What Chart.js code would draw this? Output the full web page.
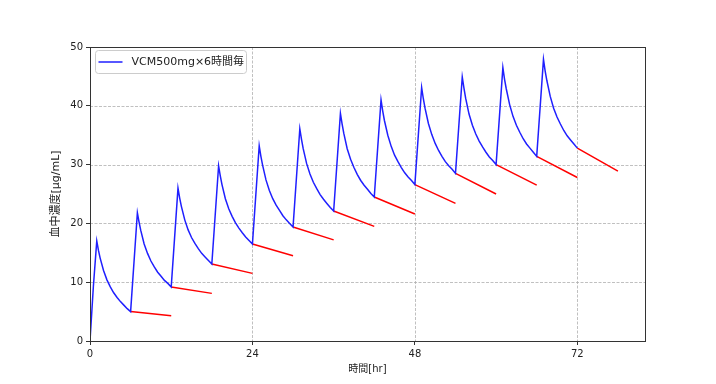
<!DOCTYPE html>
<html>
<head>
<meta charset="utf-8">
<script src="https://cdn.jsdelivr.net/npm/chart.js@4"></script>
<style>
  body { margin: 0; background: #fff; }
  #graphic { display: block; }
</style>
</head>
<body>
<canvas id="graphic" width="716" height="384"></canvas>
<script>
// données (temps en heures, concentration en µg/mL)
const blueTimes = [
  0, 0.5, 1, 1.25, 1.5, 2, 2.5, 3, 3.5, 4, 4.5, 5, 5.5,
  6, 7, 7.25, 7.5, 8, 8.5, 9, 9.5, 10, 10.5, 11, 11.5,
  12, 13, 13.25, 13.5, 14, 14.5, 15, 15.5, 16, 16.5, 17, 17.5,
  18, 19, 19.25, 19.5, 20, 20.5, 21, 21.5, 22, 22.5, 23, 23.5,
  24, 25, 25.25, 25.5, 26, 26.5, 27, 27.5, 28, 28.5, 29, 29.5,
  30, 31, 31.25, 31.5, 32, 32.5, 33, 33.5, 34, 34.5, 35, 35.5,
  36, 37, 37.25, 37.5, 38, 38.5, 39, 39.5, 40, 40.5, 41, 41.5,
  42, 43, 43.25, 43.5, 44, 44.5, 45, 45.5, 46, 46.5, 47, 47.5,
  48, 49, 49.25, 49.5, 50, 50.5, 51, 51.5, 52, 52.5, 53, 53.5,
  54, 55, 55.25, 55.5, 56, 56.5, 57, 57.5, 58, 58.5, 59, 59.5,
  60, 61, 61.25, 61.5, 62, 62.5, 63, 63.5, 64, 64.5, 65, 65.5,
  66, 67, 67.25, 67.5, 68, 68.5, 69, 69.5, 70, 70.5, 71, 71.5,
  72
];
const blueConc = [
  0, 9.3, 17.0, 15.4, 14.1, 12.0, 10.4, 9.2, 8.2, 7.4, 6.7, 6.1, 5.5,
  5.0, 21.8, 20.2, 18.8, 16.5, 14.9, 13.6, 12.6, 11.7, 11.0, 10.3, 9.8,
  9.2, 26.0, 24.3, 22.9, 20.6, 18.9, 17.6, 16.6, 15.7, 14.9, 14.3, 13.7,
  13.1, 29.8, 28.1, 26.6, 24.2, 22.5, 21.2, 20.1, 19.2, 18.4, 17.7, 17.1,
  16.5, 33.2, 31.4, 29.9, 27.4, 25.6, 24.2, 23.1, 22.2, 21.3, 20.6, 20.0,
  19.4, 36.1, 34.3, 32.7, 30.2, 28.4, 27.0, 25.9, 24.9, 24.1, 23.4, 22.7,
  22.1, 38.7, 36.9, 35.3, 32.7, 30.9, 29.5, 28.3, 27.3, 26.5, 25.8, 25.1,
  24.5, 41.0, 39.1, 37.5, 35.0, 33.1, 31.6, 30.5, 29.5, 28.6, 27.9, 27.3,
  26.6, 43.1, 41.2, 39.6, 37.0, 35.1, 33.6, 32.4, 31.4, 30.5, 29.8, 29.2,
  28.5, 44.9, 43.0, 41.3, 38.6, 36.7, 35.2, 34.0, 33.0, 32.1, 31.3, 30.7,
  30.0, 46.5, 44.5, 42.9, 40.2, 38.2, 36.7, 35.5, 34.4, 33.5, 32.8, 32.1,
  31.4, 47.9, 45.9, 44.3, 41.6, 39.6, 38.1, 36.9, 35.8, 34.9, 34.2, 33.5,
  32.8
];

// droites rouges : départ à chaque creux, fin 6 h plus tard
const redStartTimes = [6, 12, 18, 24, 30, 36, 42, 48, 54, 60, 66, 72];
const redStartConc = [5.0, 9.2, 13.1, 16.5, 19.4, 22.1, 24.5, 26.6, 28.5, 30.0, 31.4, 32.8];
const redEndConc = [4.3, 8.1, 11.5, 14.5, 17.2, 19.5, 21.6, 23.4, 25.0, 26.5, 27.8, 28.9];

const xTicks = [0, 24, 48, 72];
const legendLabel = 'VCM500mg×6時間毎';

const FONT = "'DejaVu Sans', 'Noto Sans CJK JP', sans-serif";

const bluePoints = blueTimes.map((t, i) => ({ x: t, y: blueConc[i] }));
const redPoints = [];
redStartTimes.forEach((t, i) => {
  redPoints.push({ x: t, y: redStartConc[i] });
  redPoints.push({ x: t + 6, y: redEndConc[i] });
  redPoints.push({ x: t + 6, y: null });
});

// grille en pointillés (sous les courbes)
const gridPlugin = {
  id: 'dashGrid',
  beforeDatasetsDraw(chart) {
    const { ctx, chartArea: a, scales } = chart;
    ctx.save();
    ctx.strokeStyle = '#b0b0b0';
    ctx.lineWidth = 0.8;
    ctx.setLineDash([3, 1.5]);
    scales.x.ticks.forEach(t => {
      const px = Math.round(scales.x.getPixelForValue(t.value)) + 0.5;
      ctx.beginPath();
      ctx.moveTo(px, a.top);
      ctx.lineTo(px, a.bottom);
      ctx.stroke();
    });
    scales.y.ticks.forEach(t => {
      const py = Math.round(scales.y.getPixelForValue(t.value)) + 0.5;
      ctx.beginPath();
      ctx.moveTo(a.left, py);
      ctx.lineTo(a.right, py);
      ctx.stroke();
    });
    ctx.restore();
  }
};

// cadre autour de la zone du graphique + légende
const framePlugin = {
  id: 'frame',
  afterDraw(chart) {
    const { ctx, chartArea: a } = chart;
    ctx.save();
    ctx.strokeStyle = '#333';
    ctx.lineWidth = 1;
    ctx.strokeRect(a.left + 0.5, a.top + 0.5, a.right - a.left, a.bottom - a.top);

    // légende
    const ds = chart.data.datasets[0];
    const x0 = a.left + 5.5, y0 = a.top + 3.5, w = 151, h = 23, r = 3;
    ctx.beginPath();
    ctx.moveTo(x0 + r, y0);
    ctx.arcTo(x0 + w, y0, x0 + w, y0 + h, r);
    ctx.arcTo(x0 + w, y0 + h, x0, y0 + h, r);
    ctx.arcTo(x0, y0 + h, x0, y0, r);
    ctx.arcTo(x0, y0, x0 + w, y0, r);
    ctx.closePath();
    ctx.fillStyle = 'rgba(255,255,255,0.8)';
    ctx.fill();
    ctx.strokeStyle = '#cccccc';
    ctx.stroke();

    const ly = y0 + h / 2;
    ctx.beginPath();
    ctx.moveTo(x0 + 3, ly);
    ctx.lineTo(x0 + 27, ly);
    ctx.strokeStyle = ds.borderColor;
    ctx.lineWidth = 1.5;
    ctx.stroke();

    ctx.fillStyle = '#222';
    ctx.font = '11px ' + FONT;
    ctx.textBaseline = 'middle';
    ctx.fillText(ds.label, x0 + 36, ly + 0.5);
    ctx.restore();
  }
};

const gridStyle = {
  drawOnChartArea: false,
  drawTicks: true,
  tickLength: 4,
  tickColor: '#333',
  tickWidth: 1
};

new Chart(document.getElementById('graphic'), {
  type: 'line',
  data: {
    datasets: [
      {
        label: legendLabel,
        data: bluePoints,
        borderColor: '#1f1fff',
        borderWidth: 1.5,
        pointRadius: 0,
        tension: 0,
        fill: false
      },
      {
        label: 'trough',
        data: redPoints,
        borderColor: '#ff0000',
        borderWidth: 1.5,
        pointRadius: 0,
        tension: 0,
        spanGaps: false,
        fill: false
      }
    ]
  },
  options: {
    responsive: false,
    animation: false,
    layout: { padding: { left: 0, top: 47, right: 71, bottom: 0 } },
    plugins: {
      legend: { display: false },
      tooltip: { enabled: false }
    },
    scales: {
      x: {
        type: 'linear',
        min: 0,
        max: 82,
        afterFit: s => { s.height = 43; },
        afterBuildTicks: s => { s.ticks = xTicks.map(v => ({ value: v })); },
        ticks: {
          includeBounds: false,
          padding: 3,
          color: '#222',
          font: { family: FONT, size: 10 }
        },
        grid: gridStyle,
        border: { display: false },
        title: {
          display: true,
          text: '時間[hr]',
          color: '#222',
          font: { family: FONT, size: 10 },
          padding: { top: 0, bottom: 9 }
        }
      },
      y: {
        min: 0,
        max: 50,
        afterFit: s => { s.width = 90; },
        ticks: {
          stepSize: 10,
          padding: 3,
          color: '#222',
          font: { family: FONT, size: 10 }
        },
        grid: gridStyle,
        border: { display: false },
        title: {
          display: true,
          text: '血中濃度[μg/mL]',
          color: '#222',
          font: { family: FONT, size: 11 },
          padding: { top: 50, bottom: 0 }
        }
      }
    }
  },
  plugins: [gridPlugin, framePlugin]
});
</script>
</body>
</html>
